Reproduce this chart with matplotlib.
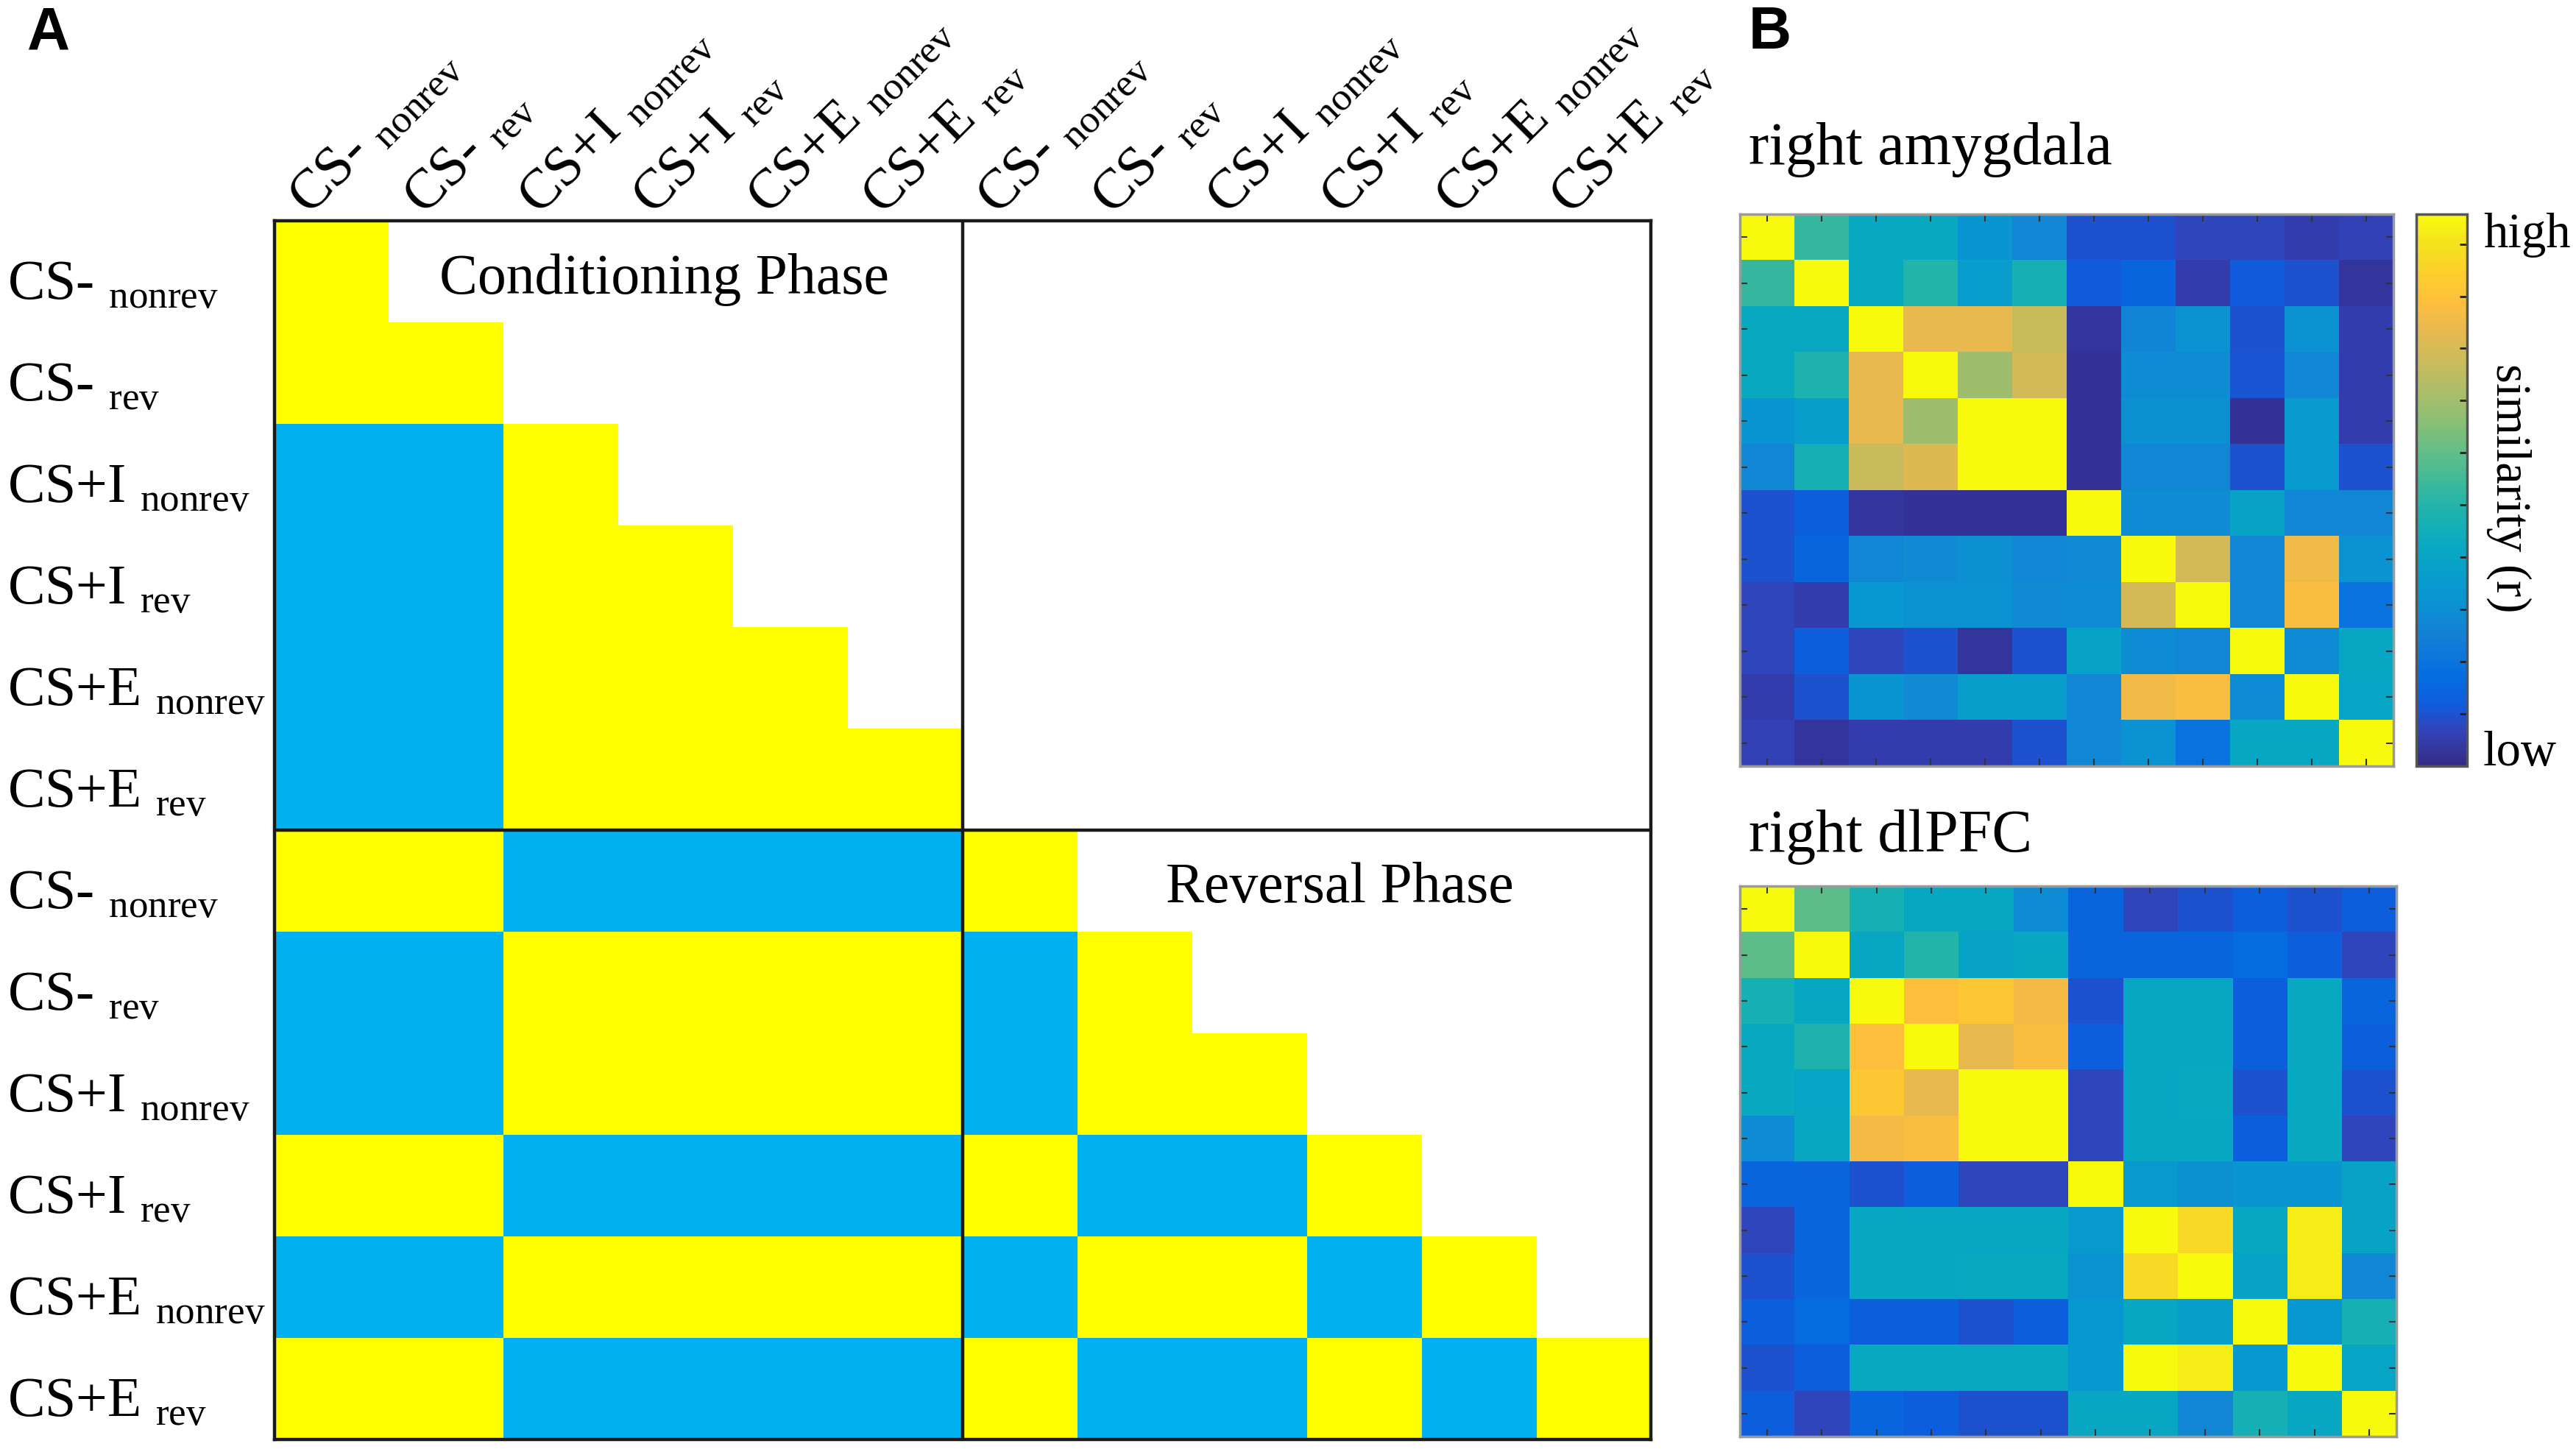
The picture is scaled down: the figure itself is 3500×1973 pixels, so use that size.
import numpy as np
import matplotlib
matplotlib.use('Agg')
import matplotlib.pyplot as plt
from matplotlib.colors import ListedColormap, LinearSegmentedColormap

plt.rcParams['font.family'] = ['Liberation Serif', 'DejaVu Serif']
plt.rcParams['mathtext.fontset'] = 'custom'
plt.rcParams['mathtext.rm'] = 'Liberation Serif'

# condition labels (conditioning phase then reversal phase)
main_names = ['CS-', 'CS-', 'CS+I', 'CS+I', 'CS+E', 'CS+E']
sub_names = ['nonrev', 'rev', 'nonrev', 'rev', 'nonrev', 'rev']

# model RDM: 1 = similar (yellow), 0 = dissimilar (blue), nan = not shown
N = np.nan
design = [
    [1, N, N, N, N, N, N, N, N, N, N, N],
    [1, 1, N, N, N, N, N, N, N, N, N, N],
    [0, 0, 1, N, N, N, N, N, N, N, N, N],
    [0, 0, 1, 1, N, N, N, N, N, N, N, N],
    [0, 0, 1, 1, 1, N, N, N, N, N, N, N],
    [0, 0, 1, 1, 1, 1, N, N, N, N, N, N],
    [1, 1, 0, 0, 0, 0, 1, N, N, N, N, N],
    [0, 0, 1, 1, 1, 1, 0, 1, N, N, N, N],
    [0, 0, 1, 1, 1, 1, 0, 1, 1, N, N, N],
    [1, 1, 0, 0, 0, 0, 1, 0, 0, 1, N, N],
    [0, 0, 1, 1, 1, 1, 0, 1, 1, 0, 1, N],
    [1, 1, 0, 0, 0, 0, 1, 0, 0, 1, 0, 1],
]

# observed similarity (scaled 0 = low, 1 = high)
amygdala = [
    [1.00, 0.50, 0.40, 0.40, 0.31, 0.26, 0.09, 0.09, 0.07, 0.07, 0.05, 0.06],
    [0.50, 1.00, 0.40, 0.47, 0.34, 0.44, 0.11, 0.14, 0.05, 0.11, 0.09, 0.03],
    [0.40, 0.40, 1.00, 0.79, 0.79, 0.73, 0.03, 0.25, 0.30, 0.09, 0.30, 0.05],
    [0.40, 0.46, 0.79, 1.00, 0.66, 0.75, 0.02, 0.28, 0.28, 0.10, 0.26, 0.05],
    [0.31, 0.35, 0.79, 0.66, 1.00, 1.00, 0.02, 0.29, 0.29, 0.02, 0.33, 0.05],
    [0.26, 0.44, 0.73, 0.77, 1.00, 1.00, 0.02, 0.26, 0.26, 0.09, 0.33, 0.09],
    [0.09, 0.12, 0.03, 0.02, 0.02, 0.02, 1.00, 0.28, 0.28, 0.37, 0.26, 0.26],
    [0.09, 0.14, 0.26, 0.27, 0.29, 0.26, 0.27, 1.00, 0.75, 0.26, 0.81, 0.30],
    [0.07, 0.05, 0.32, 0.30, 0.30, 0.27, 0.28, 0.75, 1.00, 0.26, 0.83, 0.18],
    [0.07, 0.12, 0.07, 0.09, 0.03, 0.09, 0.37, 0.28, 0.26, 1.00, 0.28, 0.39],
    [0.05, 0.09, 0.31, 0.27, 0.35, 0.35, 0.26, 0.81, 0.83, 0.28, 1.00, 0.38],
    [0.06, 0.03, 0.05, 0.05, 0.05, 0.09, 0.26, 0.30, 0.18, 0.39, 0.39, 1.00],
]

dlpfc = [
    [1.00, 0.56, 0.44, 0.39, 0.39, 0.28, 0.14, 0.07, 0.09, 0.12, 0.09, 0.12],
    [0.56, 1.00, 0.39, 0.47, 0.37, 0.39, 0.14, 0.14, 0.14, 0.16, 0.12, 0.07],
    [0.44, 0.39, 1.00, 0.84, 0.87, 0.82, 0.09, 0.39, 0.39, 0.12, 0.40, 0.14],
    [0.40, 0.46, 0.84, 1.00, 0.79, 0.83, 0.12, 0.39, 0.39, 0.12, 0.40, 0.12],
    [0.40, 0.38, 0.87, 0.79, 1.00, 1.00, 0.07, 0.39, 0.40, 0.09, 0.40, 0.09],
    [0.28, 0.39, 0.82, 0.83, 1.00, 1.00, 0.07, 0.39, 0.39, 0.12, 0.40, 0.07],
    [0.14, 0.14, 0.09, 0.12, 0.07, 0.07, 1.00, 0.33, 0.29, 0.31, 0.31, 0.37],
    [0.07, 0.14, 0.39, 0.39, 0.39, 0.39, 0.33, 1.00, 0.92, 0.39, 0.97, 0.37],
    [0.09, 0.14, 0.39, 0.39, 0.40, 0.40, 0.30, 0.92, 1.00, 0.37, 0.97, 0.26],
    [0.12, 0.16, 0.12, 0.12, 0.09, 0.12, 0.32, 0.39, 0.35, 1.00, 0.32, 0.44],
    [0.09, 0.12, 0.40, 0.40, 0.40, 0.40, 0.32, 1.00, 0.97, 0.32, 1.00, 0.38],
    [0.12, 0.07, 0.14, 0.12, 0.09, 0.09, 0.39, 0.39, 0.26, 0.44, 0.39, 1.00],
]

# parula-like colormap
parula_pos = [0, 4, 7, 10, 15, 20, 25, 30, 35, 40, 45, 50, 53, 56, 60, 63]
parula_rgb = [
    (0.2081, 0.1663, 0.5292), (0.1959, 0.2645, 0.7279), (0.0591, 0.3598, 0.8683),
    (0.0165, 0.4266, 0.8786), (0.0779, 0.5040, 0.8384), (0.0343, 0.5966, 0.8199),
    (0.0267, 0.6642, 0.7607), (0.1453, 0.7098, 0.6646), (0.3482, 0.7424, 0.5473),
    (0.5709, 0.7485, 0.4494), (0.7525, 0.7384, 0.3768), (0.9139, 0.7258, 0.3063),
    (0.9938, 0.7455, 0.2403), (0.9880, 0.8066, 0.1794), (0.9589, 0.8949, 0.1132),
    (0.9763, 0.9831, 0.0538),
]
parula = LinearSegmentedColormap.from_list(
    'parula', [(p / 63, c) for p, c in zip(parula_pos, parula_rgb)])

fig = plt.figure(figsize=(35, 19.74), dpi=100)

# ---------------- panel A ----------------
axA = fig.add_axes([0.1066, 0.0086, 0.5343, 0.8389])
cmapA = ListedColormap(['#00B0F0', '#FFFF00'])
cmapA.set_bad('white')
axA.imshow(np.array(design, dtype=float), cmap=cmapA, vmin=0, vmax=1,
           extent=(0, 12, 12, 0), aspect='auto', interpolation='nearest')
axA.set_xlim(0, 12)
axA.set_ylim(12, 0)
axA.set_xticks([])
axA.set_yticks([])
for s in axA.spines.values():
    s.set_linewidth(3.2)
    s.set_color('#1a1a1a')
axA.axvline(6, color='#1a1a1a', lw=3.2)
axA.axhline(6, color='#1a1a1a', lw=3.2)

labels = [m + r' $_{\mathrm{' + s + '}}$' for m, s in zip(main_names, sub_names)] * 2
for i, lab in enumerate(labels):
    axA.text(-2.33, i + 0.76, lab, fontsize=54.5, ha='left', va='baseline',
             clip_on=False)
    axA.text(i + 0.30, -0.05, lab, fontsize=55, ha='left', va='baseline',
             rotation=45, rotation_mode='anchor', clip_on=False)

axA.text(3.4, 0.57, 'Conditioning Phase', fontsize=56, ha='center', va='center')
axA.text(9.29, 6.57, 'Reversal Phase', fontsize=56, ha='center', va='center')


# ---------------- panel B ----------------
def rsa_panel(ax, data):
    im = ax.imshow(np.array(data), cmap=parula, vmin=0, vmax=1,
                   aspect='auto', interpolation='nearest')
    ax.set_xticks(range(12))
    ax.set_yticks(range(12))
    ax.tick_params(direction='in', length=7, width=1.5, color='#333333',
                   top=True, right=True, labelbottom=False, labelleft=False)
    for s in ax.spines.values():
        s.set_color('#9a9a9a')
        s.set_linewidth(2.5)
    return im


axB1 = fig.add_axes([0.6754, 0.4721, 0.2537, 0.3799])
im = rsa_panel(axB1, amygdala)
axB2 = fig.add_axes([0.6754, 0.0106, 0.2549, 0.3789])
rsa_panel(axB2, dlpfc)

cax = fig.add_axes([0.938, 0.4721, 0.0197, 0.3799])
cb = fig.colorbar(im, cax=cax)
cb.set_ticks(np.linspace(0.095, 0.946, 10))
cax.tick_params(direction='in', length=7, width=2, color='#222222',
                labelright=False)
cb.outline.set_edgecolor('#555555')
cb.outline.set_linewidth(2.5)

fig.text(0.964, 0.830, 'high', fontsize=48, ha='left', va='baseline')
fig.text(0.964, 0.473, 'low', fontsize=48, ha='left', va='baseline')
fig.text(0.974, 0.664, 'similarity (r)', fontsize=48, ha='center', va='center',
         rotation=-90)

fig.text(0.679, 0.887, 'right amygdala', fontsize=59, ha='left', va='baseline')
fig.text(0.679, 0.414, 'right dlPFC', fontsize=59, ha='left', va='baseline')

fig.text(0.019, 0.977, 'A', fontsize=58, fontweight='bold', ha='center',
         va='center', family='Liberation Sans')
fig.text(0.687, 0.977, 'B', fontsize=58, fontweight='bold', ha='center',
         va='center', family='Liberation Sans')

plt.savefig('out.png')
